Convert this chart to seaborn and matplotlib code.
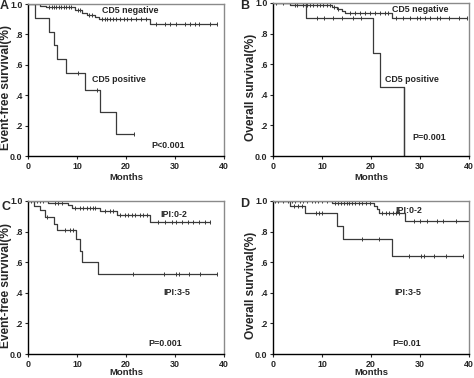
import numpy as np
import pandas as pd
import matplotlib
matplotlib.use("Agg")
import matplotlib.pyplot as plt
import seaborn as sns

# Panel A - event-free survival by CD5
a_neg_t = [0, 2.4, 3.6, 9.6, 11.0, 12.0, 13.7, 14.4, 24.9]
a_neg_s = [1.0, 0.99, 0.982, 0.96, 0.94, 0.928, 0.912, 0.90, 0.866]
a_neg_c = [4.3, 4.8, 5.3, 5.8, 6.3, 6.8, 7.3, 7.8, 8.3, 8.8, 10.2, 10.7, 12.5, 13.0,
           15.2, 15.7, 16.2, 16.8, 17.4, 18.0, 18.8, 19.5, 20.3, 21.0, 22.0, 23.0, 24.0,
           26.2, 28.0, 29.0, 30.3, 32.0, 33.0, 34.0, 34.8, 37.1, 38.5]
a_pos_t = [0, 1.5, 4.2, 5.3, 6.0, 7.8, 11.7, 14.7, 17.9]
a_pos_s = [1.0, 0.909, 0.818, 0.727, 0.636, 0.545, 0.436, 0.291, 0.145]
a_pos_c = [10.2, 14.0, 21.7]

# Panel B - overall survival by CD5
b_neg_t = [0, 3.5, 12.0, 13.0, 14.0, 14.7, 24.3]
b_neg_s = [1.0, 0.99, 0.975, 0.96, 0.945, 0.934, 0.905]
b_neg_c = [0.7, 2.1, 4.5, 4.8, 6.2, 6.9, 7.6, 8.2, 8.9, 9.6, 10.3, 11.0, 11.6, 12.5, 13.3,
           15.7, 16.7, 17.8, 18.8, 19.8, 20.8, 21.8, 22.9, 23.5,
           25.2, 26.6, 28.0, 29.3, 30.0, 31.0, 32.0, 33.4, 34.0, 36.0, 38.0, 39.5]
b_pos_t = [0, 6.8, 20.4, 21.8, 26.8]
b_pos_s = [1.0, 0.9, 0.675, 0.45, 0.0]
b_pos_c = [9.0, 10.5, 12.3, 14.0, 16.4, 18.0]

# Panel C - event-free survival by IPI
c_low_t = [0, 4.0, 8.2, 8.9, 14.7, 18.1, 24.9]
c_low_s = [1.0, 0.99, 0.974, 0.952, 0.932, 0.908, 0.862]
c_low_c = [0.7, 1.8, 2.4, 3.1, 5.5, 6.2, 6.9, 9.6, 10.6, 11.3, 12.0, 12.7, 13.3, 13.7,
           15.7, 16.7, 17.4, 18.8, 19.8, 20.5, 21.2, 21.8, 22.9, 23.5, 24.2,
           26.6, 28.0, 29.3, 30.3, 31.4, 32.7, 33.7, 34.8, 36.1, 37.1]
c_high_t = [0, 1.3, 2.4, 3.4, 5.3, 6.0, 9.7, 10.6, 11.0, 14.3]
c_high_s = [1.0, 0.97, 0.94, 0.895, 0.85, 0.81, 0.75, 0.67, 0.60, 0.52]
c_high_c = [3.8, 7.5, 8.5, 9.2, 21.5, 27.8, 30.2, 30.8, 32.8, 35.0, 38.6]

# Panel D - overall survival by IPI
d_low_t = [0, 12.1, 20.6, 21.3, 21.6, 27.0]
d_low_s = [1.0, 0.987, 0.967, 0.95, 0.923, 0.87]
d_low_c = [0.5, 1.0, 2.0, 3.0, 3.8, 4.5, 5.5, 6.2, 7.0, 8.0, 8.6, 9.2, 10.0, 11.0,
           12.7, 13.3, 13.9, 14.5, 15.0, 15.6, 16.2, 16.8, 17.5, 18.2, 19.0, 19.8,
           22.3, 23.0, 23.7, 24.4, 25.1, 25.8, 28.8, 30.0, 31.5, 33.5, 34.6, 37.3, 40.0]
d_high_t = [0, 3.5, 6.6, 13.1, 14.3, 24.3]
d_high_s = [1.0, 0.97, 0.923, 0.834, 0.753, 0.643]
d_high_c = [4.2, 5.2, 5.9, 8.7, 9.3, 9.9, 18.2, 21.6, 27.7, 30.3, 30.8, 32.9, 35.3, 38.8]

line_col = "#3a3a3a"
txt = dict(fontsize=6.4, fontweight="bold", ha="center", va="center")


def curva(ax, tiempos, surv, censuras):
    fin = max(tiempos[-1], max(censuras))
    x = list(tiempos) + [fin]
    y = list(surv) + [surv[-1]]
    df = pd.DataFrame({"t": x, "s": y})
    sns.lineplot(ax=ax, data=df, x="t", y="s", drawstyle="steps-post",
                 color=line_col, linewidth=0.9, estimator=None, sort=False)
    idx = np.searchsorted(tiempos, censuras, side="right") - 1
    dc = pd.DataFrame({"t": censuras, "s": np.array(surv)[idx]})
    sns.scatterplot(ax=ax, data=dc, x="t", y="s", marker="|", s=12,
                    color=line_col, linewidth=0.7)


def curva_fin(ax, tiempos, surv, censuras):
    # curva que cae a cero en el ultimo evento
    df = pd.DataFrame({"t": tiempos, "s": surv})
    sns.lineplot(ax=ax, data=df, x="t", y="s", drawstyle="steps-post",
                 color=line_col, linewidth=0.9, estimator=None, sort=False)
    ax.plot([tiempos[-1], tiempos[-1]], [surv[-2], surv[-1]], color=line_col, lw=0.9)
    idx = np.searchsorted(tiempos, censuras, side="right") - 1
    dc = pd.DataFrame({"t": censuras, "s": np.array(surv)[idx]})
    sns.scatterplot(ax=ax, data=dc, x="t", y="s", marker="|", s=12,
                    color=line_col, linewidth=0.7)


def formato(ax, ylabel, xlab_y):
    ax.set_xlim(0, 40)
    ax.set_ylim(0, 1.0)
    ax.set_xticks([0, 10, 20, 30, 40])
    ax.set_yticks([0, 0.2, 0.4, 0.6, 0.8, 1.0])
    ax.set_yticklabels(["0.0", ".2", ".4", ".6", ".8", "1.0"])
    ax.tick_params(labelsize=6.4, length=2, width=0.8, pad=2)
    for lab in ax.get_xticklabels() + ax.get_yticklabels():
        lab.set_fontweight("bold")
    ax.set_xlabel("Months", fontsize=6.8, fontweight="bold", va="center")
    ax.xaxis.set_label_coords(0.5, xlab_y)
    ax.set_ylabel(ylabel, fontsize=8.6, fontweight="bold", va="center")
    ax.yaxis.set_label_coords(-0.11, 0.45)
    ax.spines["left"].set_color("black")
    ax.spines["bottom"].set_color("black")
    ax.spines["top"].set_color("#8a8a8a")
    ax.spines["right"].set_color("#8a8a8a")
    for s in ax.spines.values():
        s.set_linewidth(1.0)


sns.set_style("ticks")
plt.rcParams["font.family"] = ["Liberation Sans", "DejaVu Sans"]

fig = plt.figure(figsize=(4.74, 3.78), dpi=100)
W, H = 474, 378
axA = fig.add_axes([28 / W, (H - 156) / H, 196 / W, 152 / H])
axB = fig.add_axes([273 / W, (H - 156) / H, 196 / W, 153 / H])
axC = fig.add_axes([28 / W, (H - 354) / H, 196 / W, 153 / H])
axD = fig.add_axes([273 / W, (H - 354) / H, 196 / W, 153 / H])

curva(axA, a_neg_t, a_neg_s, a_neg_c)
curva(axA, a_pos_t, a_pos_s, a_pos_c)
formato(axA, "Event-free survival(%)", -0.141)
axA.text(20.8, 0.96, "CD5 negative", **txt)
axA.text(18.6, 0.50, "CD5 positive", **txt)
axA.text(28.5, 0.066, "P<0.001", **txt)

curva(axB, b_neg_t, b_neg_s, b_neg_c)
curva_fin(axB, b_pos_t, b_pos_s, b_pos_c)
formato(axB, "Overall survival(%)", -0.141)
axB.text(30.0, 0.96, "CD5 negative", **txt)
axB.text(28.3, 0.50, "CD5 positive", **txt)
axB.text(31.8, 0.12, "P=0.001", **txt)

curva(axC, c_low_t, c_low_s, c_low_c)
curva(axC, c_high_t, c_high_s, c_high_c)
formato(axC, "Event-free survival(%)", -0.118)
axC.text(29.8, 0.915, "IPI:0-2", **txt)
axC.text(30.3, 0.40, "IPI:3-5", **txt)
axC.text(27.9, 0.07, "P=0.001", **txt)

curva(axD, d_low_t, d_low_s, d_low_c)
curva(axD, d_high_t, d_high_s, d_high_c)
formato(axD, "Overall survival(%)", -0.118)
axD.text(27.7, 0.94, "IPI:0-2", **txt)
axD.text(27.5, 0.40, "IPI:3-5", **txt)
axD.text(27.3, 0.07, "P=0.01", **txt)

for lbl, x, y in [("A", 0, 0), ("B", 240, 0), ("C", 1, 201), ("D", 240, 198)]:
    fig.text(x / W, (H - y) / H, lbl, fontsize=9, fontweight="bold", ha="left", va="top")

fig.savefig("out.png", dpi=100)
